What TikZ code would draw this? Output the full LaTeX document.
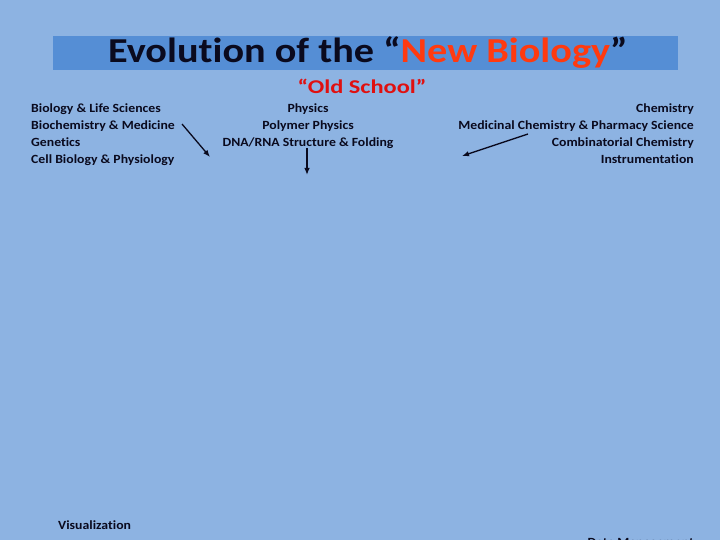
\documentclass[tikz,border=0pt]{standalone}
\usepackage{fontspec}
\setmainfont{Carlito}[Ligatures=NoCommon]
\newfontfamily\bodyfont[FakeStretch=1.1,Ligatures=NoCommon]{Carlito}
\newfontfamily\titlefont[FakeStretch=1.15,Ligatures=NoCommon]{Carlito}
\newfontfamily\oldfont[FakeStretch=1.25,Ligatures=NoCommon]{Carlito}
\usetikzlibrary{arrows.meta}
\definecolor{bg}{HTML}{8DB3E2}
\definecolor{bar}{HTML}{558ED5}
\definecolor{newbio}{HTML}{FF3A10}
\definecolor{oldred}{HTML}{E01010}
\definecolor{ink}{HTML}{0A0A1E}
\tikzset{
  body/.style={font=\bodyfont\bfseries\fontsize{12.5}{17}\selectfont, text=ink, inner sep=0pt, align=left},
  arr/.style={-{Latex[length=7pt,width=5.5pt]}, line width=1.3pt, draw=ink},
}
\begin{document}
\begin{tikzpicture}[x=1pt,y=-1pt]
\useasboundingbox (0,0) rectangle (720,540);
\fill[bg] (0,0) rectangle (720,540);
\fill[bar] (53,36) rectangle (678,70);
\node[inner sep=0pt, font=\titlefont\bfseries\fontsize{35}{35}\selectfont, text=ink, anchor=west] (title) at (108,53) {Evolution of the “\textcolor{newbio}{New Biology}”};
\node[inner sep=0pt, font=\oldfont\bfseries\fontsize{19.5}{19.5}\selectfont, text=oldred] (old) at (362,86) {“Old School”};
\node[body, anchor=north west] (bio) at (31,104) {Biology \& Life Sciences\\Biochemistry \& Medicine\\Genetics\\Cell Biology \& Physiology};
\node[body, align=center, anchor=north] (phys) at (308,104) {Physics\\Polymer Physics\\DNA/RNA Structure \& Folding};
\node[body, align=right, anchor=north east] (chem) at (694,104) {Chemistry\\Medicinal Chemistry \& Pharmacy Science\\Combinatorial Chemistry\\Instrumentation};
\node[body, anchor=west] (vis) at (58,525) {Visualization};
\node[body, anchor=north east] (data) at (694,538) {Data Management};
\coordinate (a1s) at (182,124); \coordinate (a1e) at (210,157);
\coordinate (a2s) at (307,148); \coordinate (a2e) at (307,175);
\coordinate (a3s) at (528,134); \coordinate (a3e) at (462,156);
\draw[arr] (a1s) -- (a1e);
\draw[arr] (a2s) -- (a2e);
\draw[arr] (a3s) -- (a3e);
\end{tikzpicture}
\end{document}
